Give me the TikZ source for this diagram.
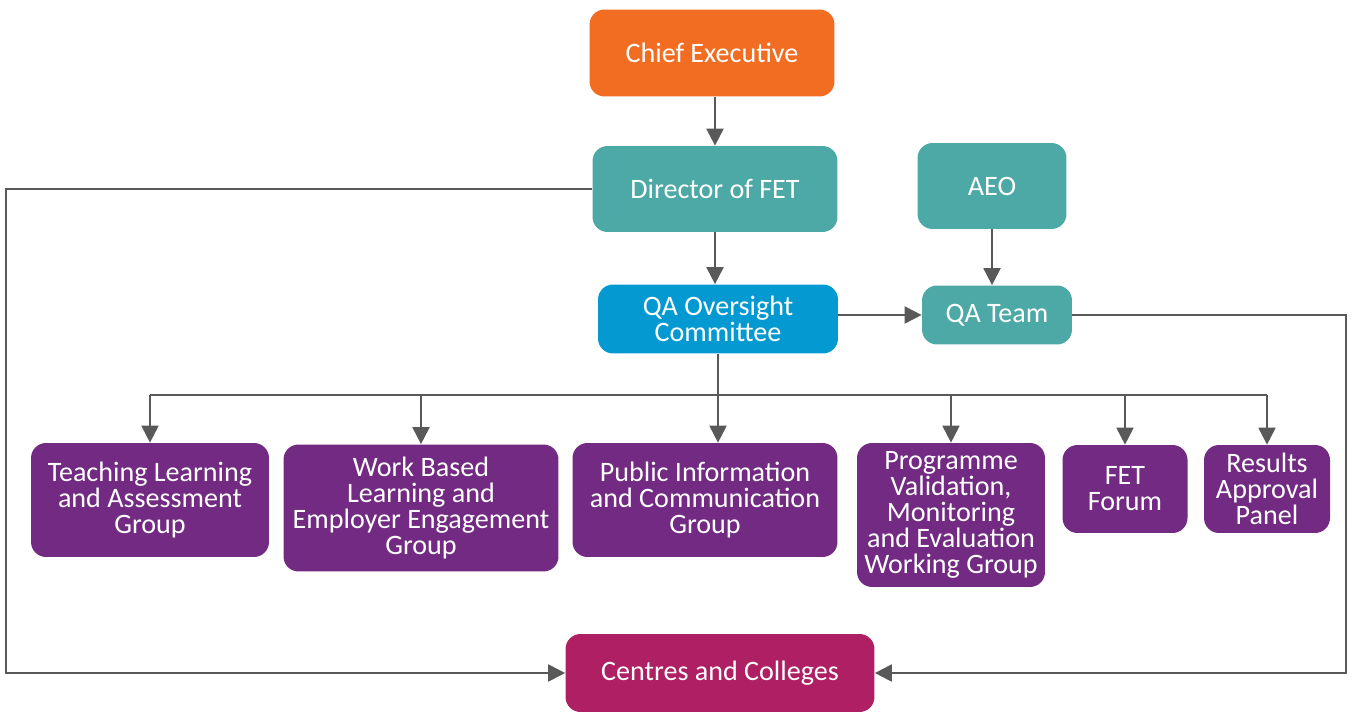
\documentclass[tikz,border=0pt]{standalone}
\usepackage{fontspec}
\setmainfont{Carlito}
\usetikzlibrary{arrows.meta}

\definecolor{ceo}{HTML}{F26D21}
\definecolor{fet}{HTML}{4DA9A6}
\definecolor{qac}{HTML}{0599D1}
\definecolor{grp}{HTML}{722A82}
\definecolor{cen}{HTML}{AE1F63}
\definecolor{wire}{HTML}{595959}

\tikzset{
    box/.style={rounded corners=0.3cm, text=white, align=center, inner sep=0pt,
        font=\fontsize{16}{14.8}\selectfont},
    line/.style={draw=wire, line width=1.1pt},
    link/.style={line, -{Triangle[length=0.34cm,width=0.34cm]}},
}

\begin{document}
\begin{tikzpicture}[x=0.02cm,y=-0.02cm]
        \useasboundingbox (0,0) rectangle (1352,713);
        % boxes
        \node [box, fill=ceo, minimum width=4.9cm, minimum height=1.74cm] (chief) at (712,53) {Chief Executive};
        \node [box, fill=fet, minimum width=4.9cm, minimum height=1.72cm] (director) at (715,189) {Director of FET};
        \node [box, fill=fet, minimum width=2.98cm, minimum height=1.72cm] (aeo) at (992,186) {AEO};
        \node [box, fill=qac, minimum width=4.8cm, minimum height=1.38cm] (oversight) at (718,319) {QA Oversight\\Committee};
        \node [box, fill=fet, minimum width=3cm, minimum height=1.18cm] (qateam) at (997,315) {QA Team};
        \node [box, fill=grp, minimum width=4.76cm, minimum height=2.28cm] (teaching) at (150,500) {Teaching Learning\\and Assessment\\Group};
        \node [box, fill=grp, minimum width=5.5cm, minimum height=2.54cm] (workbased) at (421,508) {Work Based\\Learning and\\Employer Engagement\\Group};
        \node [box, fill=grp, minimum width=5.3cm, minimum height=2.28cm] (publicinfo) at (705,500) {Public Information\\and Communication\\Group};
        \node [box, fill=grp, minimum width=3.76cm, minimum height=2.88cm] (programme) at (951,515) {Programme\\Validation,\\Monitoring\\and Evaluation\\Working Group};
        \node [box, fill=grp, minimum width=2.5cm, minimum height=1.76cm] (forum) at (1125,489) {FET\\Forum};
        \node [box, fill=grp, minimum width=2.52cm, minimum height=1.76cm] (results) at (1267,489) {Results\\Approval\\Panel};
        \node [box, fill=cen, minimum width=6.18cm, minimum height=1.56cm] (centres) at (720,673) {Centres and Colleges};
        % rails
        \coordinate (bus) at (718,395);
        \coordinate (leftrail) at (6,0);
        \coordinate (rightrail) at (1346,0);
        % arrows
        \draw [link] (chief.south -| director) -- (director.north);
        \draw [link] (director.south) -- (director.south |- oversight.north);
        \draw [link] (aeo.south) -- (aeo.south |- qateam.north);
        \draw [link] (oversight.east |- qateam) -- (qateam.west);
        \draw [link] (oversight.south) -- (oversight.south |- publicinfo.north);
        \draw [line] (teaching.north |- bus) -- (results.north |- bus);
        \foreach \g in {teaching,workbased,programme,forum,results}
            \draw [link] (\g.north |- bus) -- (\g.north);
        \draw [link] (director.west) -- (director.west -| leftrail) |- (centres.west);
        \draw [link] (qateam.east) -- (qateam.east -| rightrail) |- (centres.east);
    \end{tikzpicture}
\end{document}
